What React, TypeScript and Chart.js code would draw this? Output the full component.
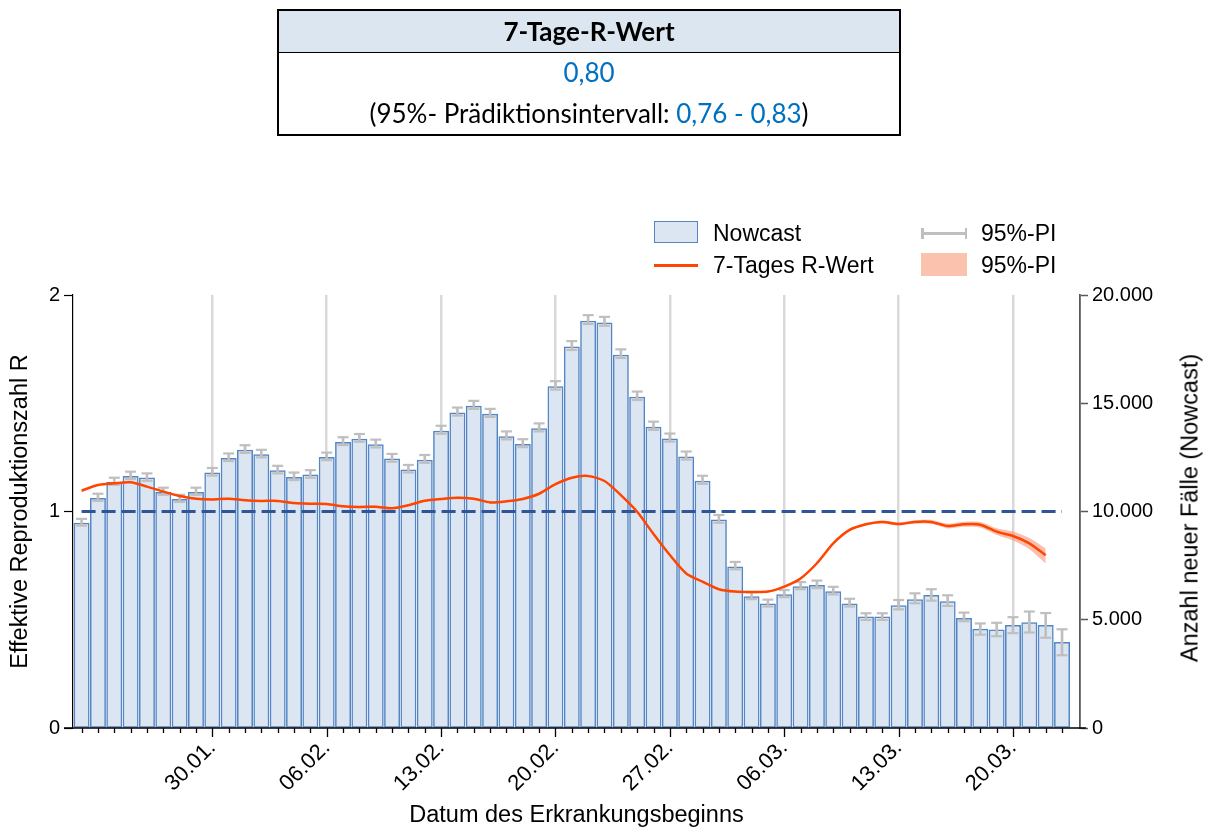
import React, { useEffect, useRef } from 'react';
import { Chart, registerables } from 'chart.js';

Chart.register(...registerables);

const FONT = "'Liberation Sans', Arial, sans-serif";
const TABLE_FONT = "Lato, 'Open Sans', sans-serif";

// ---------- data ----------
const dates = [
  '22.01.', '23.01.', '24.01.', '25.01.', '26.01.', '27.01.', '28.01.', '29.01.', '30.01.', '31.01.',
  '01.02.', '02.02.', '03.02.', '04.02.', '05.02.', '06.02.', '07.02.', '08.02.', '09.02.', '10.02.',
  '11.02.', '12.02.', '13.02.', '14.02.', '15.02.', '16.02.', '17.02.', '18.02.', '19.02.', '20.02.',
  '21.02.', '22.02.', '23.02.', '24.02.', '25.02.', '26.02.', '27.02.', '28.02.', '01.03.', '02.03.',
  '03.03.', '04.03.', '05.03.', '06.03.', '07.03.', '08.03.', '09.03.', '10.03.', '11.03.', '12.03.',
  '13.03.', '14.03.', '15.03.', '16.03.', '17.03.', '18.03.', '19.03.', '20.03.', '21.03.', '22.03.',
  '23.03.',
];

const tickLabels = ['30.01.', '06.02.', '13.02.', '20.02.', '27.02.', '06.03.', '13.03.', '20.03.'];

const nowcast = [
  9470, 10610, 11350, 11630, 11550, 10890, 10560, 10890, 11790, 12460,
  12840, 12630, 11890, 11580, 11690, 12500, 13200, 13350, 13090, 12430,
  11930, 12380, 13720, 14560, 14870, 14500, 13460, 13100, 13830, 15770,
  17610, 18800, 18720, 17230, 15290, 13900, 13360, 12530, 11410, 9610,
  7450, 6070, 5730, 6160, 6530, 6590, 6300, 5740, 5130, 5130,
  5650, 5930, 6130, 5840, 5070, 4570, 4540, 4740, 4870, 4740,
  3960,
];

const nowcastLower = [
  9350, 10490, 11230, 11500, 11420, 10770, 10440, 10770, 11660, 12330,
  12710, 12500, 11760, 11450, 11560, 12370, 13070, 13220, 12960, 12300,
  11800, 12250, 13590, 14430, 14740, 14370, 13330, 12970, 13700, 15630,
  17460, 18660, 18580, 17090, 15150, 13770, 13230, 12400, 11280, 9480,
  7330, 5950, 5610, 6040, 6410, 6460, 6170, 5610, 4990, 4990,
  5480, 5760, 5880, 5640, 4930, 4310, 4240, 4380, 4410, 4170,
  3360,
];

const nowcastUpper = [
  9660, 10820, 11560, 11840, 11760, 11100, 10770, 11100, 12010, 12680,
  13060, 12850, 12110, 11800, 11910, 12720, 13430, 13580, 13320, 12660,
  12150, 12610, 13960, 14800, 15110, 14740, 13700, 13340, 14070, 16020,
  17870, 19070, 18990, 17490, 15540, 14150, 13600, 12770, 11650, 9840,
  7670, 6270, 5930, 6370, 6740, 6810, 6520, 5970, 5300, 5300,
  5910, 6220, 6410, 6130, 5330, 4830, 4860, 5120, 5380, 5310,
  4560,
];

const rValues = [
  1.096, 1.122, 1.130, 1.135, 1.115, 1.092, 1.072, 1.059, 1.056, 1.059,
  1.052, 1.049, 1.049, 1.039, 1.036, 1.035, 1.024, 1.021, 1.022, 1.015,
  1.029, 1.050, 1.058, 1.064, 1.059, 1.042, 1.047, 1.058, 1.082, 1.126,
  1.156, 1.164, 1.141, 1.076, 0.999, 0.896, 0.799, 0.714, 0.676, 0.641,
  0.630, 0.628, 0.630, 0.653, 0.691, 0.761, 0.853, 0.915, 0.941, 0.952,
  0.942, 0.952, 0.952, 0.933, 0.941, 0.939, 0.907, 0.887, 0.853, 0.798,
];

const rLower = [
  1.092, 1.118, 1.126, 1.131, 1.111, 1.088, 1.068, 1.055, 1.052, 1.055,
  1.048, 1.045, 1.045, 1.035, 1.032, 1.031, 1.020, 1.017, 1.018, 1.011,
  1.025, 1.046, 1.054, 1.060, 1.055, 1.038, 1.043, 1.054, 1.078, 1.122,
  1.152, 1.160, 1.137, 1.072, 0.995, 0.892, 0.795, 0.710, 0.672, 0.637,
  0.626, 0.624, 0.626, 0.649, 0.687, 0.755, 0.847, 0.909, 0.935, 0.946,
  0.935, 0.944, 0.943, 0.922, 0.929, 0.926, 0.891, 0.866, 0.826, 0.760,
];

const rUpper = [
  1.100, 1.126, 1.134, 1.139, 1.119, 1.096, 1.076, 1.063, 1.060, 1.063,
  1.056, 1.053, 1.053, 1.043, 1.040, 1.039, 1.028, 1.025, 1.026, 1.019,
  1.033, 1.054, 1.062, 1.068, 1.063, 1.046, 1.051, 1.062, 1.086, 1.130,
  1.160, 1.168, 1.145, 1.080, 1.003, 0.900, 0.803, 0.718, 0.680, 0.645,
  0.634, 0.632, 0.634, 0.657, 0.695, 0.767, 0.859, 0.921, 0.947, 0.958,
  0.949, 0.960, 0.961, 0.944, 0.953, 0.952, 0.923, 0.908, 0.878, 0.830,
];

const referenceR = [1, 1];
const referenceIdx = [0, 60];

const leftTicks = [0, 1, 2];
const rightTicks = [0, 5000, 10000, 15000, 20000];
const rightTickLabels = ['0', '5.000', '10.000', '15.000', '20.000'];

const headline = '0,80';
const piLow = '0,76';
const piHigh = '0,83';

// ---------- colours ----------
const BAR_FILL = '#dce6f2';
const BAR_BORDER = '#5485c4';
const ERR = '#bfbfbf';
const R_LINE = '#ff4500';
const BAND = 'rgba(248,140,105,0.55)';
const REF = '#2f5597';
const GRID = '#d9d9d9';

const isMajor = (i: number) => tickLabels.includes(dates[Math.round(i)]);

const xTickMarks = {
  id: 'xTickMarks',
  afterDraw(chart: any) {
    const xs = chart.scales.x;
    const { ctx, chartArea } = chart;
    const b = chartArea.bottom;
    ctx.save();
    ctx.strokeStyle = '#000';
    ctx.lineWidth = 1.3;
    ctx.beginPath();
    ctx.moveTo(chartArea.left - 9, b);
    ctx.lineTo(chartArea.right + 6, b);
    xs.ticks.forEach((t: any) => {
      const px = Math.round(xs.getPixelForValue(t.value)) + 0.5;
      ctx.moveTo(px, b);
      ctx.lineTo(px, b + (isMajor(t.value) ? 9 : 5));
    });
    ctx.stroke();
    ctx.restore();
  },
};

function ChartCanvas() {
  const ref = useRef<HTMLCanvasElement | null>(null);
  useEffect(() => {
    if (!ref.current) return;
    Chart.defaults.font.family = FONT;
    Chart.defaults.color = '#000';
    const chart = new Chart(ref.current, {
      type: 'bar',
      data: {
        datasets: [
          {
            type: 'line',
            label: '7-Tages R-Wert',
            data: rValues.map((v, i) => ({ x: i, y: v })),
            yAxisID: 'y',
            borderColor: R_LINE,
            borderWidth: 2.5,
            pointRadius: 0,
            tension: 0.25,
            fill: false,
            order: 1,
          },
          {
            type: 'line',
            label: '95%-PI oben',
            data: rUpper.map((v, i) => ({ x: i, y: v })),
            yAxisID: 'y',
            borderColor: 'rgba(0,0,0,0)',
            borderWidth: 0,
            backgroundColor: BAND,
            pointRadius: 0,
            tension: 0.25,
            fill: '+1',
            order: 2,
          },
          {
            type: 'line',
            label: '95%-PI unten',
            data: rLower.map((v, i) => ({ x: i, y: v })),
            yAxisID: 'y',
            borderColor: 'rgba(0,0,0,0)',
            borderWidth: 0,
            pointRadius: 0,
            tension: 0.25,
            fill: false,
            order: 3,
          },
          {
            type: 'line',
            label: 'R = 1',
            data: referenceIdx.map((x, i) => ({ x, y: referenceR[i] })),
            yAxisID: 'y',
            borderColor: REF,
            borderWidth: 3,
            borderDash: [14, 6],
            pointRadius: 0,
            fill: false,
            order: 4,
          },
          {
            type: 'line',
            label: 'PI oben',
            data: nowcastUpper.map((v, i) => ({ x: i, y: v })),
            yAxisID: 'y1',
            showLine: false,
            pointStyle: 'line',
            pointRadius: 5.5,
            pointBorderColor: ERR,
            pointBorderWidth: 2.2,
            order: 5,
          },
          {
            type: 'line',
            label: 'PI unten',
            data: nowcastLower.map((v, i) => ({ x: i, y: v })),
            yAxisID: 'y1',
            showLine: false,
            pointStyle: 'line',
            pointRadius: 5.5,
            pointBorderColor: ERR,
            pointBorderWidth: 2.2,
            order: 5,
          },
          {
            type: 'bar',
            label: '95%-PI',
            data: nowcast.map((_, i) => ({ x: i, y: [nowcastLower[i], nowcastUpper[i]] })) as any,
            yAxisID: 'y1',
            backgroundColor: ERR,
            borderWidth: 0,
            barThickness: 2,
            grouped: false,
            order: 6,
          },
          {
            type: 'bar',
            label: 'Nowcast',
            data: nowcast.map((v, i) => ({ x: i, y: v })),
            yAxisID: 'y1',
            backgroundColor: BAR_FILL,
            borderColor: BAR_BORDER,
            borderWidth: 1.5,
            borderSkipped: false,
            barThickness: 15.3,
            grouped: false,
            order: 7,
          },
        ] as any,
      },
      options: {
        responsive: false,
        animation: false,
        devicePixelRatio: 1,
        events: [],
        layout: { padding: { top: 295, left: 0, right: 0, bottom: 0 } },
        plugins: {
          legend: { display: false },
          tooltip: { enabled: false },
        },
        scales: {
          x: {
            type: 'linear',
            min: -0.526,
            max: 61.1,
            offset: false,
            afterBuildTicks: (s: any) => {
              s.ticks = dates.map((_, i) => ({ value: i }));
            },
            afterFit: (s: any) => {
              s.height = 102;
            },
            ticks: {
              autoSkip: false,
              maxRotation: 45,
              minRotation: 45,
              padding: 7,
              color: '#000',
              font: { family: FONT, size: 22 },
              callback: (v: any) => (isMajor(Number(v)) ? dates[Math.round(Number(v))] : ''),
            },
            grid: {
              offset: false,
              drawTicks: false,
              drawOnChartArea: true,
              color: (ctx: any) => (ctx.tick && isMajor(ctx.tick.value) ? GRID : 'rgba(0,0,0,0)'),
              lineWidth: 2.5,
            },
            border: { display: false },
            title: {
              display: true,
              text: 'Datum des Erkrankungsbeginns',
              color: '#000',
              font: { family: FONT, size: 23.5 },
              padding: { top: 0, bottom: 0 },
            },
          },
          y: {
            type: 'linear',
            position: 'left',
            min: 0,
            max: 2,
            afterBuildTicks: (s: any) => {
              s.ticks = leftTicks.map((v) => ({ value: v }));
            },
            afterFit: (s: any) => {
              s.width = 73;
            },
            ticks: { color: '#000', font: { family: FONT, size: 20 }, padding: 4 },
            grid: { drawOnChartArea: false, drawTicks: true, tickLength: 9, color: '#000', tickWidth: 1.2 },
            border: { display: true, color: '#000', width: 1.2 },
            title: {
              display: true,
              text: 'Effektive Reproduktionszahl R',
              color: '#000',
              font: { family: FONT, size: 23.5 },
              padding: { top: 6, bottom: 0 },
            },
          },
          y1: {
            type: 'linear',
            position: 'right',
            min: 0,
            max: 20000,
            afterBuildTicks: (s: any) => {
              s.ticks = rightTicks.map((v) => ({ value: v }));
            },
            afterFit: (s: any) => {
              s.width = 129;
            },
            ticks: {
              color: '#000',
              font: { family: FONT, size: 20 },
              padding: 4,
              callback: (_v: any, i: number) => rightTickLabels[i],
            },
            grid: { drawOnChartArea: false, drawTicks: true, tickLength: 8, color: '#595959', tickWidth: 1.5 },
            border: { display: true, color: '#595959', width: 1.8 },
          },
        },
      } as any,
      plugins: [xTickMarks],
    });
    return () => chart.destroy();
  }, []);
  return (
    <canvas
      ref={ref}
      width={1209}
      height={830}
      style={{ position: 'absolute', left: 0, top: 0, width: 1209, height: 830 }}
    />
  );
}

const legendText: React.CSSProperties = {
  position: 'absolute',
  font: `23px ${FONT}`,
  lineHeight: '26px',
  height: 26,
  whiteSpace: 'nowrap',
  color: '#000',
};

export default function App() {
  const blue = '#0070c0';
  return (
    <div style={{ position: 'absolute', left: 0, top: 0, width: 1209, height: 830, background: '#fff', overflow: 'hidden' }}>
      <ChartCanvas />
      {/* summary table */}
      <div
        style={{
          position: 'absolute',
          left: 277,
          top: 9,
          width: 624,
          height: 127,
          boxSizing: 'border-box',
          border: '2px solid #000',
          fontFamily: TABLE_FONT,
          color: '#000',
        }}
      >
        <div
          style={{
            position: 'absolute',
            left: 0,
            top: 0,
            right: 0,
            height: 41,
            background: '#dce6f1',
            borderBottom: '1.5px solid #000',
            textAlign: 'center',
            fontWeight: 700,
            fontSize: 26,
            lineHeight: '41px',
          }}
        >
          7-Tage-R-Wert
        </div>
        <div style={{ position: 'absolute', left: 0, right: 0, top: 45, textAlign: 'center', fontSize: 26, lineHeight: '32px', color: blue }}>
          {headline}
        </div>
        <div style={{ position: 'absolute', left: 0, right: 0, top: 86, textAlign: 'center', fontSize: 26, lineHeight: '32px' }}>
          (95%- Prädiktionsintervall: <span style={{ color: blue }}>{piLow} - {piHigh}</span>)
        </div>
      </div>

      {/* legend */}
      <div
        style={{
          position: 'absolute',
          left: 654,
          top: 221,
          width: 44,
          height: 22,
          boxSizing: 'border-box',
          background: BAR_FILL,
          border: `1.5px solid ${BAR_BORDER}`,
        }}
      />
      <div style={{ ...legendText, left: 713, top: 220 }}>Nowcast</div>
      <div style={{ position: 'absolute', left: 654, top: 264, width: 44, height: 3, background: R_LINE }} />
      <div style={{ ...legendText, left: 713, top: 252 }}>7-Tages R-Wert</div>

      <div style={{ position: 'absolute', left: 921, top: 232, width: 46, height: 2.5, background: ERR }} />
      <div style={{ position: 'absolute', left: 921, top: 228, width: 2.5, height: 11, background: ERR }} />
      <div style={{ position: 'absolute', left: 964.5, top: 228, width: 2.5, height: 11, background: ERR }} />
      <div style={{ ...legendText, left: 981, top: 220 }}>95%-PI</div>
      <div style={{ position: 'absolute', left: 921, top: 253, width: 46, height: 23, background: '#fbc3ad' }} />
      <div style={{ ...legendText, left: 981, top: 252 }}>95%-PI</div>

      {/* right axis title (reads bottom to top) */}
      <div
        style={{
          position: 'absolute',
          left: 1190,
          top: 508,
          transform: 'translate(-50%, -50%) rotate(-90deg)',
          font: `23.5px ${FONT}`,
          whiteSpace: 'nowrap',
          color: '#000',
        }}
      >
        Anzahl neuer Fälle (Nowcast)
      </div>
    </div>
  );
}
